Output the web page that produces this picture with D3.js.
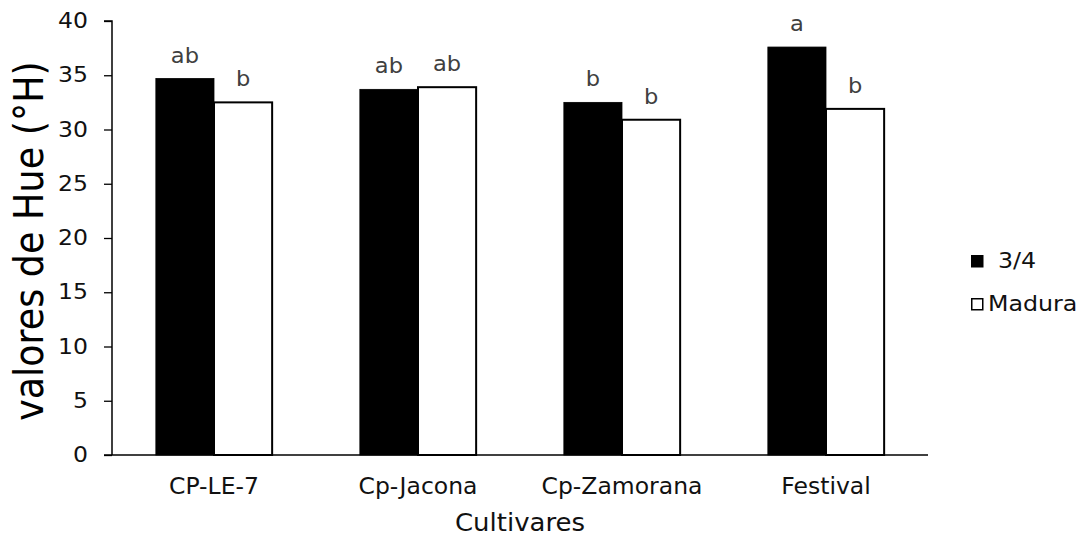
<!DOCTYPE html>
<html>
<head>
<meta charset="utf-8">
<script src="https://cdn.jsdelivr.net/npm/d3@7"></script>
<style>
  html, body { margin: 0; padding: 0; background: #fff; }
  svg text { font-family: "DejaVu Sans", Verdana, sans-serif; }
</style>
</head>
<body>
<svg id="chart" width="1082" height="537"></svg>
<script>
// Hue values per cultivar at two ripeness stages
const cultivars = ["CP-LE-7", "Cp-Jacona", "Cp-Zamorana", "Festival"];
const seriesNames = ["3/4", "Madura"];
const valuesThreeQuarter = [34.7, 33.7, 32.5, 37.6];
const valuesMadura = [32.5, 33.9, 30.9, 31.9];
const lettersThreeQuarter = ["ab", "ab", "b", "a"];
const lettersMadura = ["b", "ab", "b", "b"];
const yTicks = [0, 5, 10, 15, 20, 25, 30, 35, 40];

const svg = d3.select("#chart");
const plot = { left: 112, right: 928, top: 21, bottom: 455 };

// Widen glyphs horizontally (Verdana-like proportions)
function widen(sel, k) {
  sel.each(function () {
    const len = this.getComputedTextLength();
    d3.select(this).attr("textLength", len * k).attr("lengthAdjust", "spacingAndGlyphs");
  });
}

const x0 = d3.scaleBand().domain(cultivars).range([plot.left, plot.right]).paddingInner(0.43).paddingOuter(0.215);
const x1 = d3.scaleBand().domain(seriesNames).range([0, x0.bandwidth()]);
const y = d3.scaleLinear().domain([0, 40]).range([plot.bottom, plot.top]);

const fills = { "3/4": "#000000", "Madura": "#ffffff" };

const rows = cultivars.map((c, i) => ({
  cultivar: c,
  bars: [
    { series: "3/4", value: valuesThreeQuarter[i], letter: lettersThreeQuarter[i] },
    { series: "Madura", value: valuesMadura[i], letter: lettersMadura[i] }
  ]
}));

// Y axis
const yAxis = d3.axisLeft(y).tickValues(yTicks).tickSize(8).tickPadding(16);
const gy = svg.append("g").attr("transform", `translate(${plot.left},0)`).call(yAxis);
gy.select(".domain").attr("stroke", "#000").attr("stroke-width", 1.5).attr("d", `M-8,${plot.top}H0V${plot.bottom}`);
gy.selectAll(".tick line").attr("stroke", "#000").attr("stroke-width", 1.3);
gy.selectAll(".tick text").attr("fill", "#111").style("font-size", "21px").call(widen, 1.12);

// Bars
const groups = svg.append("g").selectAll("g").data(rows).join("g")
  .attr("transform", d => `translate(${x0(d.cultivar)},0)`);

groups.selectAll("rect").data(d => d.bars).join("rect")
  .attr("x", d => x1(d.series))
  .attr("y", d => y(d.value))
  .attr("width", x1.bandwidth())
  .attr("height", d => y(0) - y(d.value))
  .attr("fill", d => fills[d.series])
  .attr("stroke", "#000")
  .attr("stroke-width", d => d.series === "Madura" ? 2 : 0.8);

// Significance letters above each bar
groups.selectAll("text.letter").data(d => d.bars).join("text")
  .attr("class", "letter")
  .attr("x", d => x1(d.series) + x1.bandwidth() / 2)
  .attr("y", d => y(d.value) - 16)
  .attr("text-anchor", "middle")
  .attr("fill", "#404040")
  .style("font-size", "20.5px")
  .text(d => d.letter)
  .call(widen, 1.1);

// X axis
const xAxis = d3.axisBottom(x0).tickSize(0).tickPadding(22);
const gx = svg.append("g").attr("transform", `translate(0,${plot.bottom})`).call(xAxis);
gx.select(".domain").attr("stroke", "#000").attr("stroke-width", 1.5).attr("d", `M${plot.left - 8},0H${plot.right}`);
gx.selectAll(".tick text").attr("fill", "#111").style("font-size", "23.5px").attr("dy", "0.71em");

// Axis titles
svg.append("text")
  .attr("x", (plot.left + plot.right) / 2)
  .attr("y", 531)
  .attr("text-anchor", "middle")
  .attr("fill", "#111")
  .style("font-size", "24.5px")
  .text("Cultivares")
  .call(widen, 1.06);

svg.append("text")
  .attr("transform", "translate(43,241) rotate(-90) scale(1,1.1)")
  .attr("text-anchor", "middle")
  .attr("fill", "#000")
  .style("font-size", "36.5px")
  .text("valores de Hue (°H)");

// Legend
const legend = svg.append("g").selectAll("g").data(seriesNames).join("g")
  .attr("transform", (d, i) => `translate(971,${255 + i * 43})`);
legend.append("rect")
  .attr("x", d => d === "Madura" ? 0.75 : 0)
  .attr("y", d => d === "Madura" ? 0.75 : 0)
  .attr("width", d => d === "Madura" ? 11 : 12.5)
  .attr("height", d => d === "Madura" ? 11 : 12.5)
  .attr("fill", d => fills[d])
  .attr("stroke", "#000")
  .attr("stroke-width", d => d === "Madura" ? 1.5 : 0);
legend.append("text")
  .attr("x", d => d === "Madura" ? 17 : 27)
  .attr("y", 13)
  .attr("fill", "#111")
  .style("font-size", "21px")
  .text(d => d)
  .call(widen, 1.13);
</script>
</body>
</html>
